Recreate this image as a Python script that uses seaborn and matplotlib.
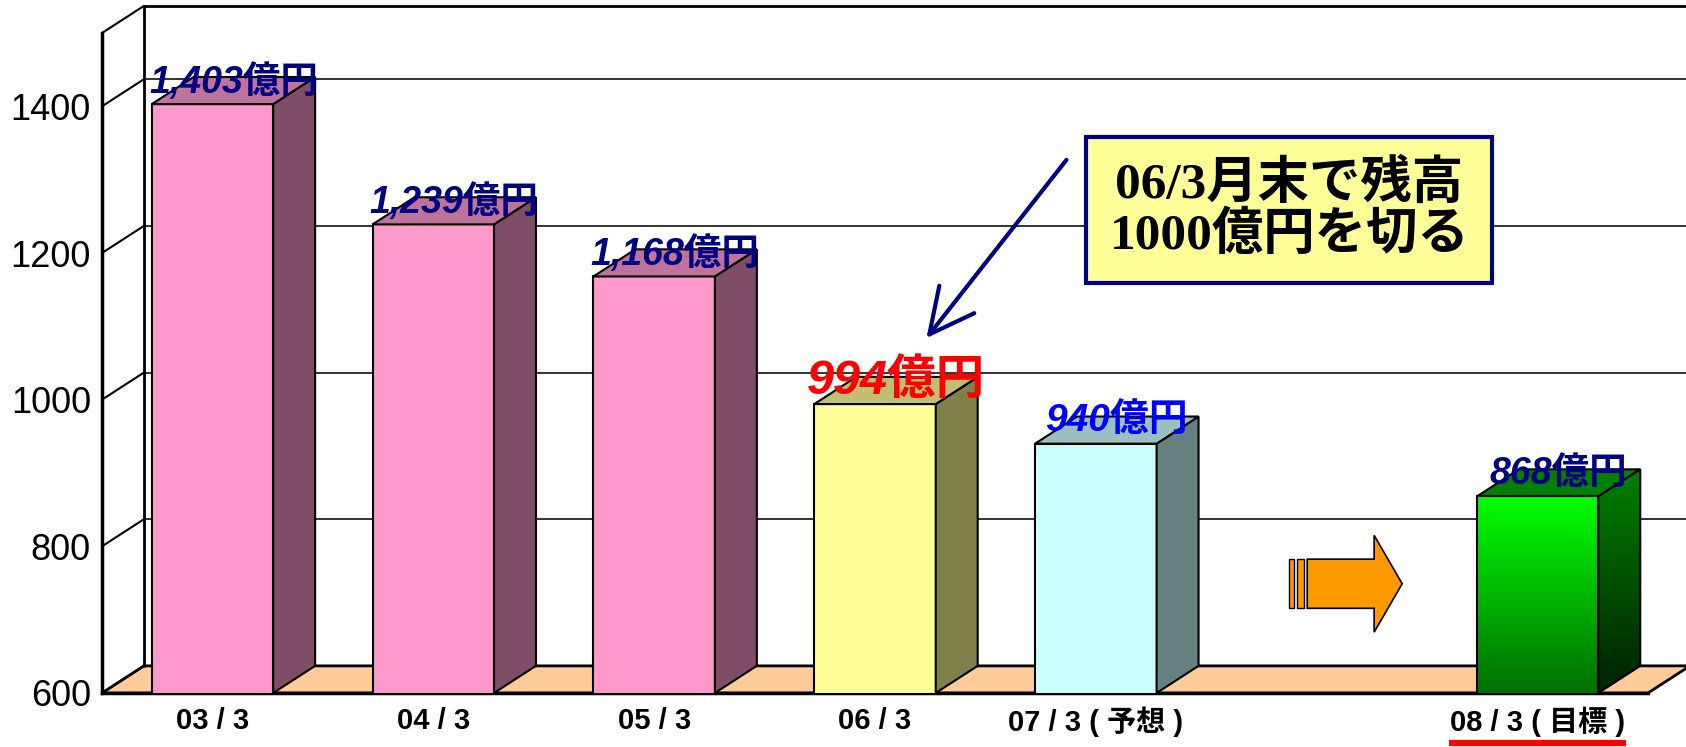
import numpy as np
import matplotlib
matplotlib.use('Agg')
import matplotlib.pyplot as plt
import matplotlib.transforms as mtransforms
from matplotlib.patches import Polygon, Rectangle, FancyArrow
from matplotlib.colors import LinearSegmentedColormap
import seaborn as sns

# --- data ---
categories = ['03/3', '04/3', '05/3', '06/3', '07/3(予想)', '08/3(目標)']
balances = [1403, 1239, 1168, 994, 940, 868]
axis_order = ['03/3', '04/3', '05/3', '06/3', '07/3(予想)', ' ', '08/3(目標)']
y_ticks = [600, 800, 1000, 1200, 1400]
y_min, y_max = 600, 1500
target_cat = '08/3(目標)'
callout_text = '06/3月末で残高\n1000億円を切る'

# --- styles ---
front_colors = ['#FF99CC', '#FF99CC', '#FF99CC', '#FFFF99', '#CCFFFF', '#00CC00']
top_colors = ['#C0739A', '#C0739A', '#C0739A', '#BFBF73', '#99BFBF', '#007F00']
side_colors = ['#804D66', '#804D66', '#804D66', '#80804D', '#668080', '#005000']
label_colors = ['#000080', '#000080', '#000080', '#FF0000', '#0000FF', '#000080']
label_sizes = [27, 27, 27, 35, 28, 27]

DX, DY = 0.19, 37   # depth of the 3D box (category units, value units)
JP_SANS = ['Liberation Sans', 'Noto Sans CJK JP']
JP_SERIF = ['Liberation Serif', 'Noto Sans CJK JP']

sns.set_style('white')
plt.rcParams['font.family'] = JP_SANS
plt.rcParams['text.color'] = 'black'
plt.rcParams['xtick.color'] = 'black'
plt.rcParams['ytick.color'] = 'black'


def spaced(label):
    # the original labels are letter-spaced around / and brackets
    for ch in '/()':
        label = label.replace(ch, f' {ch} ')
    return label.replace('  ', ' ').strip()


fig = plt.figure(figsize=(16.86, 7.47), dpi=100)
ax = fig.add_axes([102 / 1686, 54 / 747, 1546 / 1686, 660 / 747])

sns.barplot(x=categories, y=balances, order=axis_order, hue=categories,
            palette=dict(zip(categories, front_colors)), width=0.55, saturation=1,
            edgecolor='black', linewidth=1.5, legend=False, ax=ax, zorder=3)
bars = list(ax.patches)

x0, x1 = -0.5, len(axis_order) - 0.5

# floor and walls
floor = Polygon([(x0, y_min), (x1, y_min), (x1 + DX, y_min + DY), (x0 + DX, y_min + DY)],
                closed=True, fc='#FFCC99', ec='black', lw=2, clip_on=False, zorder=1)
ax.add_patch(floor)
for v in y_ticks[1:]:
    ax.plot([x0 + DX, x1 + DX], [v + DY] * 2, color='#333333', lw=1.4, clip_on=False, zorder=1)
ax.plot([x0 + DX, x1 + DX], [y_max + DY] * 2, color='black', lw=2, clip_on=False, zorder=1)
for v in y_ticks + [y_max]:
    ax.plot([x0, x0 + DX], [v, v + DY], color='black', lw=1.5, clip_on=False, zorder=1)
ax.plot([x0 + DX] * 2, [y_min + DY, y_max + DY], color='black', lw=2, clip_on=False, zorder=1.5)

# 3D faces + value labels
for bar in bars:
    left = bar.get_x()
    right = left + bar.get_width()
    h = bar.get_height()
    cat = axis_order[int(round(left + bar.get_width() / 2))]
    i = categories.index(cat)
    side = Polygon([(right, y_min), (right + DX, y_min + DY), (right + DX, h + DY), (right, h)],
                   closed=True, fc=side_colors[i], ec='black', lw=1.5, zorder=3)
    top = Polygon([(left, h), (right, h), (right + DX, h + DY), (left + DX, h + DY)],
                  closed=True, fc=top_colors[i], ec='black', lw=1.5, zorder=3)
    ax.add_patch(side)
    ax.add_patch(top)

    if cat == target_cat:
        grad = np.linspace(0, 1, 256).reshape(-1, 1)
        front_cmap = LinearSegmentedColormap.from_list('front', ['#006E00', '#00FF00'])
        side_cmap = LinearSegmentedColormap.from_list('side', ['#002000', '#008000'])
        im = ax.imshow(grad, extent=[left, right, y_min, h], origin='lower',
                       aspect='auto', cmap=front_cmap, zorder=3.1)
        im.set_clip_path(bar)
        im2 = ax.imshow(grad, extent=[right, right + DX, y_min, h + DY], origin='lower',
                        aspect='auto', cmap=side_cmap, zorder=3.1)
        im2.set_clip_path(side)
        bar.set_facecolor('none')
        bar.set_zorder(3.2)
        side.set_facecolor('none')
        side.set_zorder(3.2)

    ax.text((left + right) / 2 + DX / 2, h + DY / 2 + 12, f'{balances[i]:,}億円',
            ha='center', va='center', color=label_colors[i], fontsize=label_sizes[i],
            fontweight='bold', fontstyle='italic', zorder=6)

ax.set_xlim(x0, x1)
ax.set_ylim(y_min, y_max)
ax.set_xlabel('')
ax.set_ylabel('')

# axes and ticks
ax.set_yticks(y_ticks)
ax.tick_params(axis='y', direction='in', length=8, width=1.5, pad=8, labelsize=26)
ax.set_xticks(range(len(axis_order)))
ax.set_xticklabels([spaced(c) for c in axis_order], fontsize=21, fontweight='bold')
ax.set_xticks(np.arange(len(axis_order)) + 0.5, minor=True)
ax.tick_params(axis='x', which='major', length=0, pad=10)
ax.tick_params(axis='x', which='minor', direction='in', length=8, width=1.5)
for s in ['top', 'right']:
    ax.spines[s].set_visible(False)
for s in ['left', 'bottom']:
    ax.spines[s].set_linewidth(2.5)
    ax.spines[s].set_color('black')

# red underline for the target label
k = axis_order.index(target_cat)
trans = mtransforms.blended_transform_factory(ax.transData, ax.transAxes)
ax.plot([k - 0.4, k + 0.4], [-0.076] * 2, transform=trans, color='red', lw=4.5,
        clip_on=False, solid_capstyle='butt')

# orange striped arrow in the gap before the target
arrow_y = 749
ax.add_patch(Rectangle((4.876, arrow_y - 33.5), 0.023, 67, fc='#FF9900', ec='black', lw=1, zorder=4))
ax.add_patch(Rectangle((4.912, arrow_y - 33.5), 0.032, 67, fc='#FF9900', ec='black', lw=1, zorder=4))
ax.add_patch(FancyArrow(4.957, arrow_y, 0.430, 0, width=67, head_width=132, head_length=0.127,
                        length_includes_head=True, fc='#FF9900', ec='black', lw=1.2, zorder=4))

# callout
ax.annotate('', xy=(3.233, 1084), xytext=(3.867, 1327),
            arrowprops=dict(arrowstyle='->,head_length=0.8,head_width=0.4', color='#000080',
                            lw=3, mutation_scale=40, shrinkA=0, shrinkB=0), zorder=7)
ax.text(4.876, 1259, callout_text, ha='center', va='center', fontsize=37, fontweight='bold',
        family=JP_SERIF, color='black', linespacing=1.05, zorder=7,
        bbox=dict(boxstyle='square,pad=0.45', fc='#FFFF99', ec='#000080', lw=3))

fig.savefig('out.png', dpi=100)
